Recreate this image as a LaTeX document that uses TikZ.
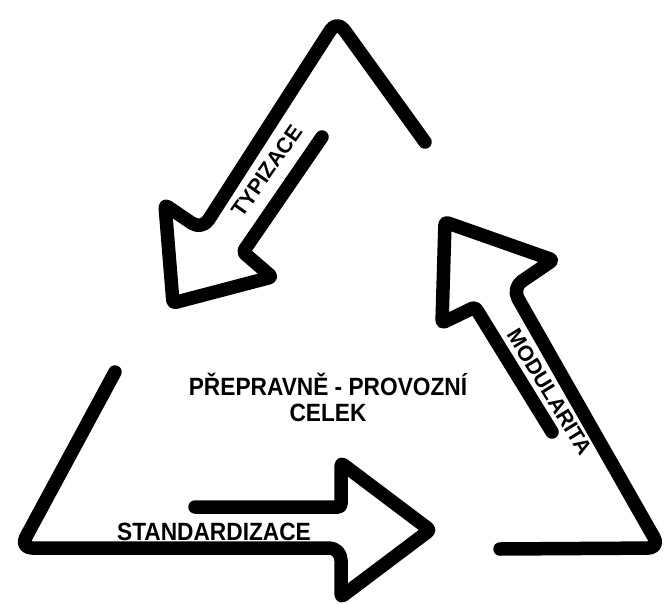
\documentclass[tikz,border=0pt]{standalone}
\usepackage{fontspec}
\setmainfont{Liberation Sans}
\begin{document}
\begin{tikzpicture}[x=1pt,y=-1pt,
  stroke/.style={line width=13.5pt, line cap=round, line join=round},
  lbl/.style={font=\bfseries\fontsize{22.7}{24.5}\selectfont, inner sep=0pt, align=center},
  rlbl/.style={font=\bfseries\fontsize{21.5}{24}\selectfont, inner sep=0pt}]
\useasboundingbox (0,0) rectangle (669,604);
% top arrow (TYPIZACE)
\coordinate (t1) at (425,142);
\coordinate (t2) at (337,20);
\coordinate (t3) at (202,230);
\coordinate (t4) at (165,205);
\coordinate (t5) at (173,303);
\coordinate (t6) at (272,277);
\coordinate (t7) at (243,252);
\coordinate (t8) at (322,137);
% bottom arrow (STANDARDIZACE)
\coordinate (s1) at (115,372);
\coordinate (s2) at (20,548);
\coordinate (s3) at (341,548);
\coordinate (s4) at (341,597);
\coordinate (s5) at (430,530);
\coordinate (s6) at (341,463);
\coordinate (s7) at (341,507);
\coordinate (s8) at (195,507);
% right arrow (MODULARITA)
\coordinate (m1) at (500,549);
\coordinate (m2) at (660,548);
\coordinate (m3) at (512,288);
\coordinate (m4) at (553,260);
\coordinate (m5) at (445,222);
\coordinate (m6) at (442,323);
\coordinate (m7) at (475,307);
\coordinate (m8) at (552,432);

\draw[stroke] (t1) [rounded corners=12pt] -- (t2) -- (t3) [rounded corners=3pt] -- (t4) -- (t5) -- (t6) -- (t7) -- (t8);
\draw[stroke] (s1) [rounded corners=12pt] -- (s2) -- (s3) [rounded corners=3pt] -- (s4) -- (s5) -- (s6) -- (s7) -- (s8);
\draw[stroke] (m1) [rounded corners=12pt] -- (m2) -- (m3) [rounded corners=3pt] -- (m4) -- (m5) -- (m6) -- (m7) -- (m8);

\node[lbl] (center) at (328,401) {\scalebox{1}[1.1]{\begin{tabular}{@{}c@{}}PŘEPRAVNĚ - PROVOZNÍ\\[-1pt]CELEK\end{tabular}}};
\node[lbl] (std) at (214,532) {\scalebox{1}[1.1]{STANDARDIZACE}};
\node[rlbl, rotate=55] (typ) at (267,171) {TYPIZACE};
\node[rlbl, rotate=-58.5] (mod) at (550,392) {MODULARITA};
\end{tikzpicture}
\end{document}
